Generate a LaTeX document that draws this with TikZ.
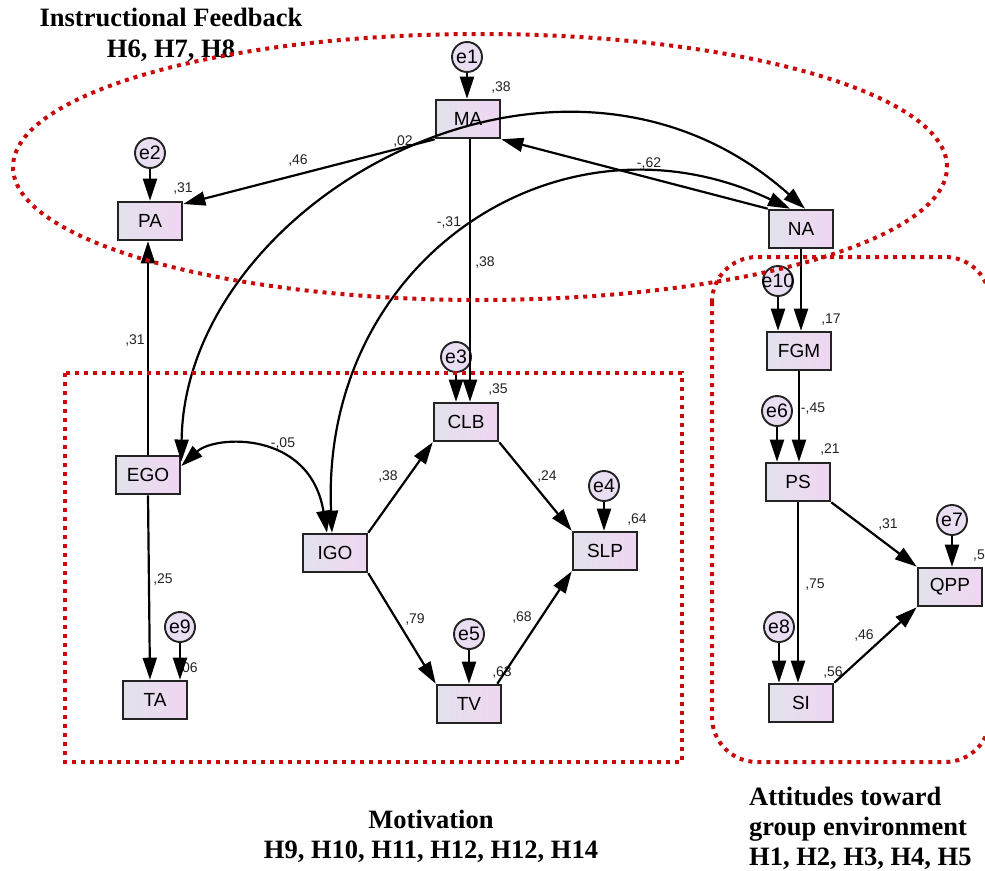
\documentclass[tikz,border=0pt]{standalone}
\usepackage{fontspec}
\setmainfont{Liberation Serif}
\setsansfont{Liberation Sans}
\usepackage{tikz}
\usetikzlibrary{arrows.meta,%
                shapes,positioning}

\definecolor{zonered}{RGB}{200,10,10}
\definecolor{boxleft}{RGB}{226,226,236}
\definecolor{boxright}{RGB}{240,214,242}
\definecolor{errfill}{RGB}{234,222,242}
\definecolor{inkgray}{RGB}{35,35,35}

\tikzset{
  obs/.style={rectangle, draw=inkgray, line width=2.6pt, left color=boxleft, right color=boxright,
    minimum width=64pt, minimum height=38pt, inner sep=0pt,
    font=\sffamily\fontsize{19}{20}\selectfont},
  err/.style={circle, draw=inkgray, line width=1.9pt, fill=errfill,
    minimum size=30pt, inner sep=0pt, font=\sffamily\fontsize{19.5}{20}\selectfont},
  coef/.style={inner sep=0pt, text=inkgray, font=\sffamily\fontsize{14}{14}\selectfont},
  reg/.style={draw=black, line width=2.2pt, -{Triangle[length=22pt,width=14pt]}},
  cov/.style={draw=black, line width=2.2pt,
    {Triangle[length=22pt,width=14pt]}-{Triangle[length=22pt,width=14pt]}},
  zone/.style={draw=zonered, line width=4pt, dash pattern=on 4pt off 5pt},
  heading/.style={anchor=base, inner sep=0pt, font=\bfseries\fontsize{26.5}{30}\selectfont}
}

\begin{document}
\begin{tikzpicture}[x=1pt,y=-1pt]
\fill[white] (0,0) rectangle (985,870);
\useasboundingbox (0,0) rectangle (985,870);

% observed variables
\node[obs] (MA)  at (468,119) {MA};
\node[obs] (PA)  at (150,221) {PA};
\node[obs] (NA)  at (801,229) {NA};
\node[obs] (FGM) at (799,351) {FGM};
\node[obs] (PS)  at (798,482) {PS};
\node[obs] (QPP) at (950,587) {QPP};
\node[obs] (SI)  at (801,703) {SI};
\node[obs] (CLB) at (466,422) {CLB};
\node[obs] (SLP) at (605,551) {SLP};
\node[obs] (EGO) at (148,475) {EGO};
\node[obs] (IGO) at (335,553) {IGO};
\node[obs] (TV)  at (469,704) {TV};
\node[obs] (TA)  at (155,700) {TA};

% errors
\node[err] (e1)  at (467,57)  {e1};
\node[err] (e2)  at (150,153) {e2};
\node[err] (e3)  at (456,357) {e3};
\node[err] (e4)  at (604,486) {e4};
\node[err] (e5)  at (469,634) {e5};
\node[err] (e6)  at (777,411) {e6};
\node[err] (e7)  at (952,520) {e7};
\node[err] (e8)  at (779,627) {e8};
\node[err] (e9)  at (180,627) {e9};
\node[err] (e10) at (778,281) {\makebox[0pt]{e10}};

% estimates
\node[coef] (rMA)  at (501,88)  {,38};
\node[coef] (rPA)  at (183,189) {,31};
\node[coef] (rCLB) at (498,390) {,35};
\node[coef] (rSLP) at (637,520) {,64};
\node[coef] (rTV)  at (502,672) {,63};
\node[coef] (rTA)  at (188,668) {,06};
\node[coef] (rFGM) at (831,320) {,17};
\node[coef] (rPS)  at (830,450) {,21};
\node[coef, anchor=west] (rQPP) at (973,556) {,5};
\node[coef] (rSI)  at (833,672) {,56};
\node[coef] (bMAPA)   at (298,161) {,46};
\node[coef] (cEGONA)  at (403,142) {,02};
\node[coef] (cIGONA)  at (449,223) {-,31};
\node[coef] (bNAMA)   at (649,164) {-,62};
\node[coef] (bMACLB)  at (485,263) {,38};
\node[coef] (bEGOPA)  at (135,341) {,31};
\node[coef] (cEGOIGO) at (283,444) {-,05};
\node[coef] (bIGOCLB) at (388,477) {,38};
\node[coef] (bEGOTA)  at (163,580) {,25};
\node[coef] (bIGOTV)  at (415,619) {,79};
\node[coef] (bTVSLP)  at (522,617) {,68};
\node[coef] (bCLBSLP) at (547,477) {,24};
\node[coef] (bFGMPS)  at (813,409) {-,45};
\node[coef] (bPSQPP)  at (888,525) {,31};
\node[coef] (bPSSI)   at (815,585) {,75};
\node[coef] (bSIQPP)  at (864,635) {,46};

% error paths
\foreach \e/\v in {e1/MA, e2/PA, e3/CLB, e4/SLP, e5/TV, e6/PS, e7/QPP, e8/SI, e9/TA, e10/FGM}
  \draw[reg] (\e) -- (\e |- \v.north);

% regressions
\draw[reg] (MA.south west) -- (PA.27);
\draw[reg] (NA.north west) -- (MA.south east);
\draw[reg] ([xshift=2pt]MA.south) -- ([xshift=2pt]MA.south |- CLB.north);
\draw[reg] (EGO) -- (EGO |- PA.south);
\draw[reg] (EGO.south) -- ([xshift=-5pt]TA.north);
\draw[reg] (IGO.north east) -- (CLB.south west);
\draw[reg] (IGO.south east) -- (TV.north west);
\draw[reg] (CLB.south east) -- (SLP.north west);
\draw[reg] ([xshift=-5pt]TV.north east) -- (SLP.south west);
\draw[reg] (NA) -- (NA |- FGM.north);
\draw[reg] (FGM) -- (FGM |- PS.north);
\draw[reg] (PS) -- (PS |- SI.north);
\draw[reg] (PS.south east) -- (QPP.north west);
\draw[reg] (SI.north east) -- (QPP.south west);

% covariances
\draw[cov] (EGO.22) .. controls (185,200) and (560,-10) .. ([xshift=4pt]NA.north);
\draw[cov] ([xshift=-3pt]IGO.north) .. controls (320,260) and (560,100) .. ([xshift=-11pt]NA.north);
\draw[cov] (EGO.15) .. controls (215,435) and (310,430) .. ([xshift=-8pt]IGO.north);

% groups
\node[heading] (ifTitle) at (171,27) {Instructional Feedback};
\node[heading] (ifHyp)   at (171,57) {H6, H7, H8};
\node[heading] (moTitle) at (431,828) {Motivation};
\node[heading] (moHyp)   at (431,858) {H9, H10, H11, H12, H12, H14};
\node[heading, anchor=base west] (atTitle) at (749,805) {Attitudes toward};
\node[heading, anchor=base west] (atSub)   at (749,835) {group environment};
\node[heading, anchor=base west] (atHyp)   at (749,865) {H1, H2, H3, H4, H5};

\draw[zone] (480,167) ellipse [x radius=467pt, y radius=133pt];
\draw[zone] (65,373) rectangle (682,762);
\draw[zone, rounded corners=45pt] (712,257) rectangle (990,762);
\end{tikzpicture}
\end{document}
